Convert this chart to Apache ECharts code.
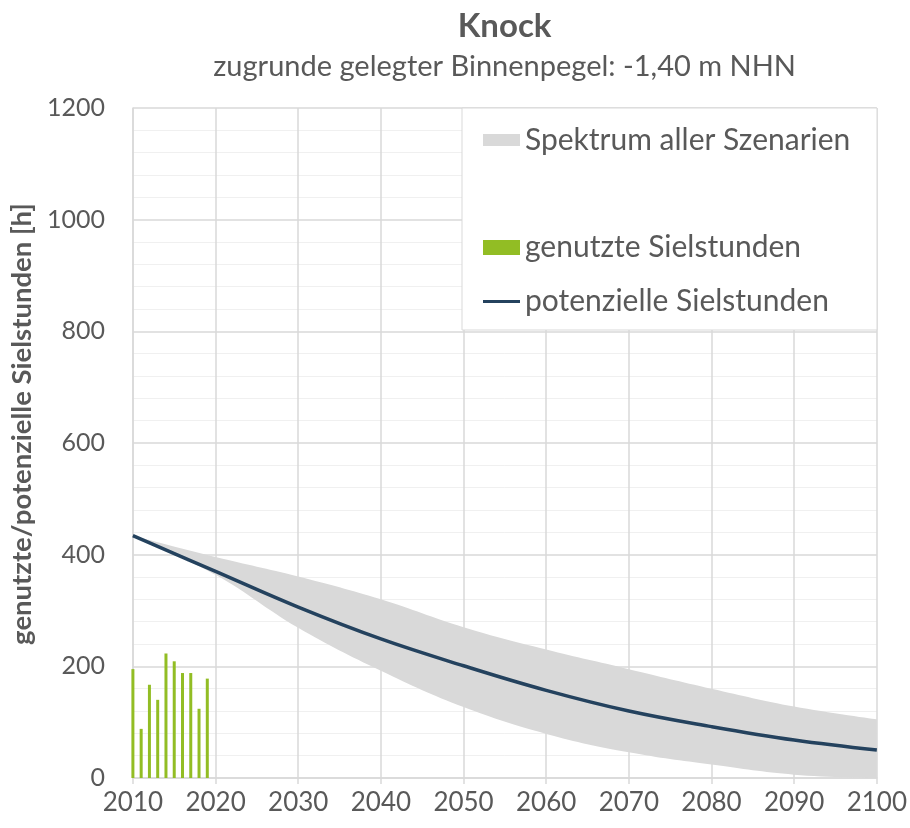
<!DOCTYPE html>
<html>
<head>
<meta charset="utf-8">
<script src="https://cdn.jsdelivr.net/npm/echarts@6/dist/echarts.min.js"></script>
<style>
  html, body { margin: 0; padding: 0; background: #fff; }
  #chart { width: 910px; height: 828px; }
</style>
</head>
<body>
<div id="chart"></div>
<script>
    // Jahre und Werte
    var barYears = [2010, 2011, 2012, 2013, 2014, 2015, 2016, 2017, 2018, 2019];
    var genutzt = [195, 88, 167, 140, 223, 209, 188, 188, 124, 178];

    var lineYears = [2010, 2020, 2030, 2040, 2050, 2060, 2070, 2080, 2090, 2100];
    var potenziell = [434, 370, 306, 249, 201, 157, 120, 92, 68, 50];
    var spektrumMin = [434, 364, 269, 192, 127, 79, 46, 24, 6, 0];
    var spektrumMax = [434, 396, 361, 320, 270, 230, 195, 160, 128, 105];

    var textColor = '#595959';
    var font = 'Lato';

    var chart = echarts.init(document.getElementById('chart'));

    var barData = barYears.map(function (y, i) { return [y, genutzt[i]]; });
    var lineData = lineYears.map(function (y, i) { return [y, potenziell[i]]; });
    // Wert zuerst, damit auf y gestapelt wird (beide Achsen sind 'value')
    var lowData = lineYears.map(function (y, i) { return [spektrumMin[i], y]; });
    var diffData = lineYears.map(function (y, i) { return [spektrumMax[i] - spektrumMin[i], y]; });

    var plain = function (v) { return String(v); };

    var option = {
        animation: false,
        title: {
            text: 'Knock',
            subtext: 'zugrunde gelegter Binnenpegel: -1,40 m NHN',
            left: '54.9%',
            textAlign: 'center',
            top: 5,
            itemGap: 9,
            textStyle: { fontFamily: font, fontSize: 33, fontWeight: 'bold', color: textColor },
            subtextStyle: { fontFamily: font, fontSize: 29, color: textColor }
        },
        grid: { left: 132, right: 33, top: 108, bottom: 50 },
        graphic: [{
            type: 'rect',
            z: 3,
            shape: { x: 462, y: 108, width: 415, height: 222 },
            style: { fill: '#fff', stroke: '#d9d9d9', lineWidth: 1 }
        }],
        legend: [{
            data: [{ name: 'Spektrum aller Szenarien', icon: 'rect' }],
            left: 478,
            top: 120,
            itemWidth: 37,
            itemHeight: 12,
            itemGap: 8,
            textStyle: { fontFamily: font, fontSize: 30, color: textColor }
        }, {
            data: [
                { name: 'genutzte Sielstunden', icon: 'rect' },
                { name: 'potenzielle Sielstunden', icon: 'path://M0 0H37V3H0Z' }
            ],
            orient: 'vertical',
            left: 478,
            top: 226,
            itemGap: 21,
            itemWidth: 37,
            itemHeight: 15,
            symbolKeepAspect: true,
            textStyle: { fontFamily: font, fontSize: 30, color: textColor, lineHeight: 33 }
        }],
        xAxis: {
            type: 'value',
            min: 2010,
            max: 2100,
            interval: 10,
            axisLine: { lineStyle: { color: '#d9d9d9', width: 1.5 } },
            axisTick: { show: true, length: 6, lineStyle: { color: '#d9d9d9', width: 1.5 } },
            axisLabel: { fontFamily: font, fontSize: 26, color: textColor, margin: 12, formatter: plain },
            splitLine: { show: true, lineStyle: { color: '#d9d9d9', width: 1.5 } }
        },
        yAxis: {
            type: 'value',
            min: 0,
            max: 1200,
            interval: 200,
            name: 'genutzte/potenzielle Sielstunden [h]',
            nameLocation: 'middle',
            nameGap: 84,
            nameTextStyle: { fontFamily: font, fontSize: 27.5, fontWeight: 'bold', color: textColor, padding: [0, 0, 0, 38] },
            axisLine: { show: true, lineStyle: { color: '#d9d9d9', width: 1.5 } },
            axisTick: { show: false },
            axisLabel: { fontFamily: font, fontSize: 25, color: textColor, margin: 28, formatter: plain },
            splitLine: { lineStyle: { color: '#d9d9d9', width: 1.5 } },
            minorTick: { show: false, splitNumber: 5 },
            minorSplitLine: { show: true, lineStyle: { color: '#f0f0f0', width: 1 } }
        },
        series: [
            {
                name: 'spektrum_min',
                type: 'line',
                stack: 'band',
                smooth: 0.4,
                symbol: 'none',
                encode: { x: 1, y: 0 },
                lineStyle: { opacity: 0 },
                data: lowData
            },
            {
                name: 'Spektrum aller Szenarien',
                type: 'line',
                stack: 'band',
                smooth: 0.4,
                symbol: 'none',
                encode: { x: 1, y: 0 },
                lineStyle: { opacity: 0 },
                itemStyle: { color: '#d9d9d9' },
                areaStyle: { color: '#d9d9d9', opacity: 1 },
                data: diffData
            },
            {
                name: 'genutzte Sielstunden',
                type: 'bar',
                barWidth: 3,
                itemStyle: { color: '#92bd24' },
                data: barData
            },
            {
                name: 'potenzielle Sielstunden',
                type: 'line',
                smooth: 0.4,
                symbol: 'none',
                z: 4,
                itemStyle: { color: '#24425e' },
                lineStyle: { color: '#24425e', width: 3.5 },
                data: lineData
            }
        ]
    };

    chart.setOption(option);
</script>
</body>
</html>
